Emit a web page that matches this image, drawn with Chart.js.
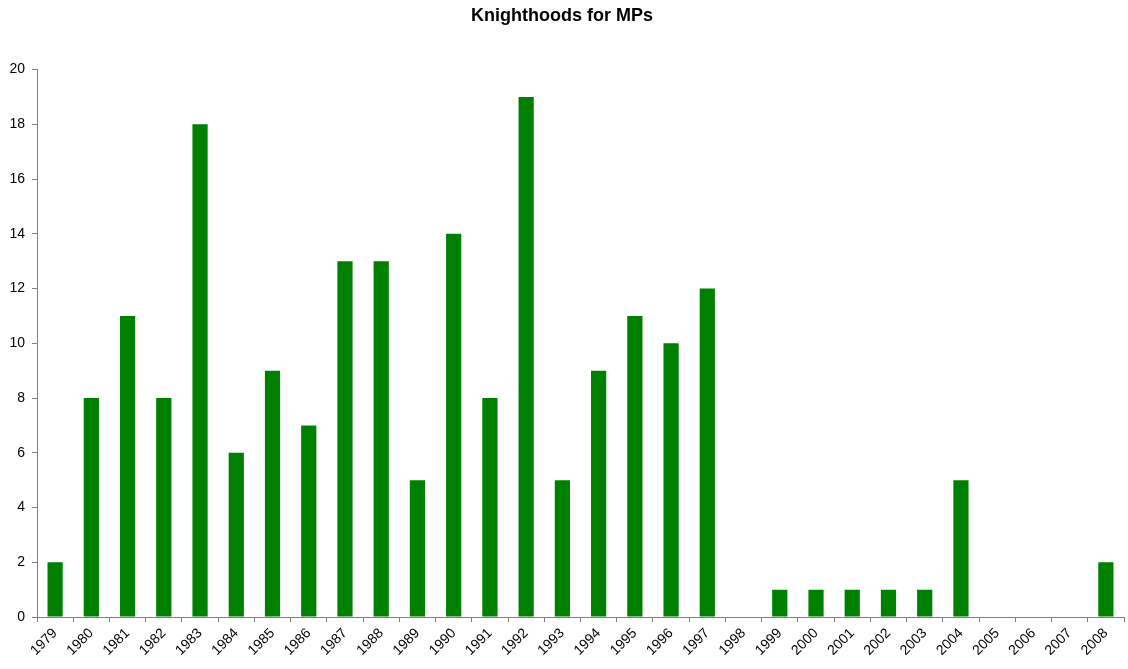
<!DOCTYPE html>
<html lang="en">
<head>
    <meta charset="UTF-8">
    <title>Knighthoods for MPs</title>
    <script src="https://cdn.jsdelivr.net/npm/chart.js"></script>
    <style>
        html, body { margin: 0; padding: 0; background: #fff; }
    </style>
</head>
<body>
    <canvas id="chart" width="1128" height="669"></canvas>
    <script>
        const years = ['1979', '1980', '1981', '1982', '1983', '1984', '1985', '1986', '1987', '1988',
                       '1989', '1990', '1991', '1992', '1993', '1994', '1995', '1996', '1997', '1998',
                       '1999', '2000', '2001', '2002', '2003', '2004', '2005', '2006', '2007', '2008'];
        const knighthoods = [2, 8, 11, 8, 18, 6, 9, 7, 13, 13,
                             5, 14, 8, 19, 5, 9, 11, 10, 12, 0,
                             1, 1, 1, 1, 1, 5, 0, 0, 0, 2];
        const yMin = 0, yMax = 20, yStep = 2;

        const axisColor = '#808080';
        const font = 'Arial, "Liberation Sans", sans-serif';

        new Chart(document.getElementById('chart'), {
            type: 'bar',
            data: {
                labels: years,
                datasets: [{
                    label: 'Knighthoods',
                    data: knighthoods,
                    backgroundColor: '#008000',
                    barPercentage: 0.42,
                    categoryPercentage: 1.0
                }]
            },
            options: {
                responsive: false,
                animation: false,
                layout: { padding: { left: 0, right: 4, top: 0, bottom: 0 } },
                plugins: {
                    legend: { display: false },
                    tooltip: { enabled: false },
                    title: {
                        display: true,
                        text: 'Knighthoods for MPs',
                        color: '#000',
                        font: { family: font, size: 18, weight: 'bold' },
                        padding: { top: 5, bottom: 43 }
                    }
                },
                scales: {
                    x: {
                        grid: {
                            offset: true,
                            drawOnChartArea: false,
                            tickLength: 5,
                            color: axisColor
                        },
                        border: { color: axisColor, width: 1 },
                        ticks: {
                            maxRotation: 45,
                            minRotation: 45,
                            autoSkip: false,
                            color: '#000',
                            padding: 3,
                            font: { family: font, size: 14 }
                        },
                        afterFit: (s) => { s.height = 52; }
                    },
                    y: {
                        min: yMin,
                        max: yMax,
                        grid: {
                            drawOnChartArea: false,
                            tickLength: 5,
                            color: axisColor
                        },
                        border: { color: axisColor, width: 1 },
                        ticks: {
                            stepSize: yStep,
                            color: '#000',
                            padding: 7,
                            font: { family: font, size: 14 }
                        },
                        afterFit: (s) => { s.width = 37; }
                    }
                }
            }
        });
    </script>
</body>
</html>
